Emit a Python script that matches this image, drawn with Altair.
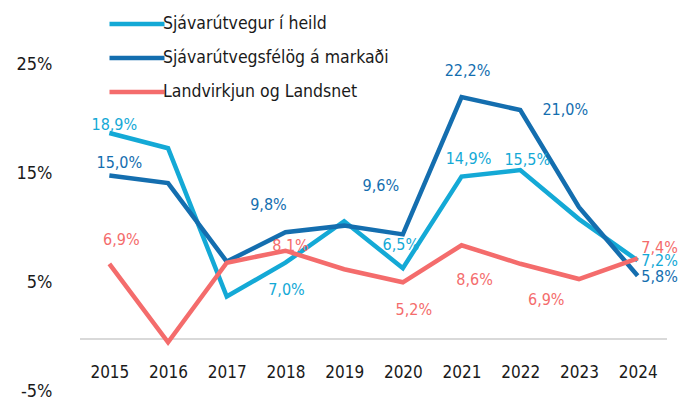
import altair as alt
import pandas as pd

years = [2015, 2016, 2017, 2018, 2019, 2020, 2021, 2022, 2023, 2024]
series_names = ["Sjávarútvegur í heild", "Sjávarútvegsfélög á markaði", "Landvirkjun og Landsnet"]
heild = [18.9, 17.5, 3.9, 7.0, 10.8, 6.5, 14.9, 15.5, 11.0, 7.2]
markadi = [15.0, 14.3, 7.1, 9.8, 10.4, 9.6, 22.2, 21.0, 12.1, 5.8]
landsvirkjun = [6.9, -0.3, 7.0, 8.1, 6.4, 5.2, 8.6, 6.9, 5.5, 7.4]
label_years = [2015, 2018, 2020, 2021, 2022, 2024]
y_ticks = [-5, 5, 15, 25]

colors = ["#14A9D6", "#146EAF", "#F46C6C"]
FONT = "DejaVu Sans Condensed, Liberation Sans Narrow, sans-serif"

rows = []
for name, vals in zip(series_names, [heild, markadi, landsvirkjun]):
    for yr, v in zip(years, vals):
        rows.append({"series": name, "year": str(yr), "value": v,
                     "label": f"{v:.1f}".replace(".", ",") + "%"})
df = pd.DataFrame(rows)

# label offsets (dx, dy) per series, in order of label_years
offsets = {
    series_names[0]: [(5, -8), (1, 27), (-2, -23), (7, -18), (7, -10), (22, 0)],
    series_names[1]: [(10, -13), (-17, -27), (-22, -48), (6, -26), (45, 0), (22, 1)],
    series_names[2]: [(12, -24), (5, -5), (11, 28), (13, 35), (26, 36), (22, -10)],
}

x_enc = alt.X("year:O", scale=alt.Scale(type="point", padding=0.5),
              axis=alt.Axis(title=None, labelAngle=0, domain=False, ticks=False, tickSize=0,
                            labelFontSize=17, labelFont=FONT, labelColor="#1a1a1a",
                            labelBaseline="middle", labelPadding=0, offset=-21, grid=False))
y_scale = alt.Scale(domain=[-5, 25], nice=False, zero=False)
y_enc = alt.Y("value:Q", scale=y_scale,
              axis=alt.Axis(title=None, values=y_ticks, labelExpr="datum.value + '%'",
                            domain=False, ticks=False, tickSize=0, grid=False,
                            labelFontSize=18, labelFont=FONT, labelColor="#1a1a1a",
                            labelPadding=28, labelOffset=-2))

color_scale = alt.Scale(domain=series_names, range=colors)
legend = alt.Legend(title=None, orient="none", legendX=43.5, legendY=-56,
                    symbolType="M-2.5,0H2.5", symbolSize=484, symbolStrokeWidth=4.5,
                    labelFontSize=17.5, labelFont=FONT, labelColor="#1a1a1a",
                    labelOffset=12.5, rowPadding=11, padding=0, labelLimit=0)

base = alt.Chart(df)

zero_rule = base.mark_rule(color="#d9d9d9", strokeWidth=2).encode(
    y=alt.datum(0, scale=y_scale))

layers = [zero_rule]
for i, name in enumerate(series_names):
    line = base.transform_filter(alt.datum.series == name).mark_line(
        strokeWidth=4.5, strokeJoin="miter", strokeCap="butt").encode(
        x=x_enc, y=y_enc,
        color=alt.Color("series:N", scale=color_scale, legend=legend, sort=series_names))
    layers.append(line)

for i, name in enumerate(series_names):
    for yr, (dx, dy) in zip(label_years, offsets[name]):
        t = base.transform_filter(
            (alt.datum.series == name) & (alt.datum.year == str(yr))
        ).mark_text(dx=dx, dy=dy, fontSize=16, font=FONT, align="center",
                    baseline="middle", color=colors[i]).encode(
            x=alt.X("year:O"), y=alt.Y("value:Q"), text="label:N")
        layers.append(t)

chart = alt.layer(*layers).properties(
    width=587, height=327,
    autosize=alt.AutoSizeParams(type="none"),
    padding={"left": 72, "top": 58.5, "right": 17, "bottom": 8},
).configure(font=FONT, view=alt.ViewConfig(stroke=None),
            axis=alt.AxisConfig(grid=False))

chart.save("out.html", embed_options={"renderer": "svg", "actions": False})
